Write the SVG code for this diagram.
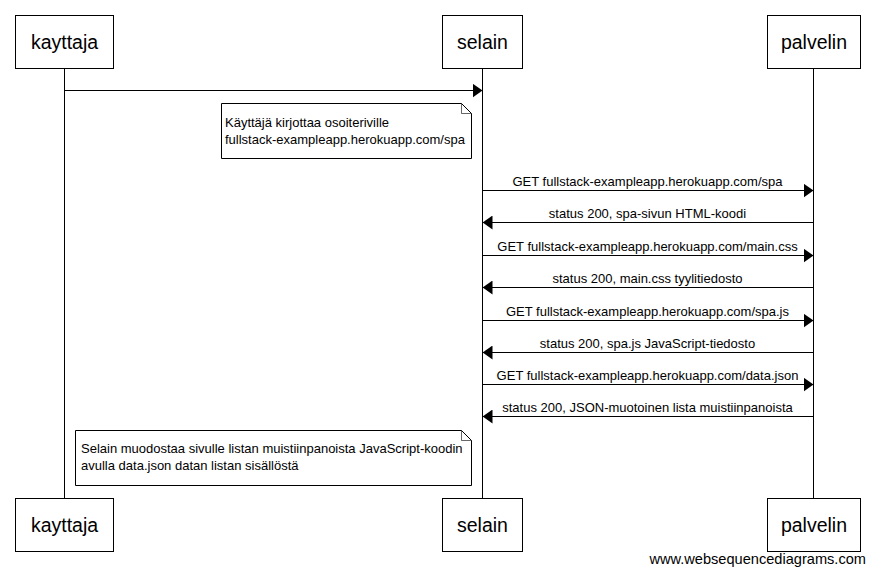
<svg xmlns="http://www.w3.org/2000/svg" width="874" height="575" viewBox="0 0 874 575">
  <style>
    .actor rect { fill: #fff; stroke: #000; stroke-width: 1; }
    .actor text { font-family: "Liberation Sans", Arial, sans-serif; font-size: 19.5px; text-anchor: middle; fill: #000; }
    .life { stroke: #000; stroke-width: 1; }
    .msg line { stroke: #000; stroke-width: 1; }
    .msg text { font-family: "Liberation Sans", Arial, sans-serif; font-size: 13px; text-anchor: middle; fill: #000; }
    .note path.body { fill: #fff; stroke: #000; stroke-width: 1; }
    .note path.fold { fill: none; stroke: #000; stroke-width: 0.6; }
    .note text { font-family: "Liberation Sans", Arial, sans-serif; font-size: 13px; fill: #000; }
    .credit { font-family: "Liberation Sans", Arial, sans-serif; font-size: 14.6px; text-anchor: end; fill: #000; }
  </style>
  <defs>
    <marker id="head" markerUnits="userSpaceOnUse" markerWidth="10" markerHeight="14" refX="10" refY="7" orient="auto">
      <path d="M0,0 L10,7 L0,14 Z" fill="#000"/>
    </marker>
  </defs>
  <rect width="874" height="575" fill="#fff"/>

  <!-- lifelines -->
  <g id="lifelines">
    <line class="life" x1="64.5" y1="68" x2="64.5" y2="498"/>
    <line class="life" x1="482.5" y1="68" x2="482.5" y2="498"/>
    <line class="life" x1="813.5" y1="68" x2="813.5" y2="498"/>
  </g>

  <!-- participants (top) -->
  <g id="kayttaja-top" class="actor">
    <rect x="15.5" y="15.5" width="98" height="53"/>
    <text x="64.5" y="49">kayttaja</text>
  </g>
  <g id="selain-top" class="actor">
    <rect x="442.5" y="15.5" width="80" height="53"/>
    <text x="482.5" y="49">selain</text>
  </g>
  <g id="palvelin-top" class="actor">
    <rect x="767.5" y="15.5" width="93" height="53"/>
    <text x="814" y="49">palvelin</text>
  </g>

  <!-- participants (bottom) -->
  <g id="kayttaja-bottom" class="actor">
    <rect x="15.5" y="498.5" width="98" height="53"/>
    <text x="64.5" y="532">kayttaja</text>
  </g>
  <g id="selain-bottom" class="actor">
    <rect x="442.5" y="498.5" width="80" height="53"/>
    <text x="482.5" y="532">selain</text>
  </g>
  <g id="palvelin-bottom" class="actor">
    <rect x="767.5" y="498.5" width="93" height="53"/>
    <text x="814" y="532">palvelin</text>
  </g>

  <!-- notes -->
  <g id="note-osoiterivi" class="note">
    <path class="body" d="M221.5,103.5 H461.5 L471.5,113.5 V158.5 H221.5 Z"/>
    <path class="fold" d="M461.5,103.5 V113.5 H471.5"/>
    <text x="225" y="127">Käyttäjä kirjottaa osoiteriville</text>
    <text x="225" y="144">fullstack-exampleapp.herokuapp.com/spa</text>
  </g>
  <g id="note-muodostaa" class="note">
    <path class="body" d="M75.5,430.5 H461.5 L471.5,440.5 V485.5 H75.5 Z"/>
    <path class="fold" d="M461.5,430.5 V440.5 H471.5"/>
    <text x="81" y="453">Selain muodostaa sivulle listan muistiinpanoista JavaScript-koodin</text>
    <text x="81" y="470">avulla data.json datan listan sisällöstä</text>
  </g>

  <!-- messages -->
  <g id="connectors" class="msg">
    <line x1="64.5" y1="90.5" x2="482.5" y2="90.5" marker-end="url(#head)"/>

    <line x1="482.5" y1="190.5" x2="813.5" y2="190.5" marker-end="url(#head)"/>
    <text x="647.5" y="186">GET fullstack-exampleapp.herokuapp.com/spa</text>

    <line x1="813.5" y1="222.5" x2="482.5" y2="222.5" marker-end="url(#head)"/>
    <text x="647.5" y="218">status 200, spa-sivun HTML-koodi</text>

    <line x1="482.5" y1="255.5" x2="813.5" y2="255.5" marker-end="url(#head)"/>
    <text x="647.5" y="251">GET fullstack-exampleapp.herokuapp.com/main.css</text>

    <line x1="813.5" y1="287.5" x2="482.5" y2="287.5" marker-end="url(#head)"/>
    <text x="647.5" y="283">status 200, main.css tyylitiedosto</text>

    <line x1="482.5" y1="320.5" x2="813.5" y2="320.5" marker-end="url(#head)"/>
    <text x="647.5" y="316">GET fullstack-exampleapp.herokuapp.com/spa.js</text>

    <line x1="813.5" y1="352.5" x2="482.5" y2="352.5" marker-end="url(#head)"/>
    <text x="647.5" y="348">status 200, spa.js JavaScript-tiedosto</text>

    <line x1="482.5" y1="384.5" x2="813.5" y2="384.5" marker-end="url(#head)"/>
    <text x="647.5" y="380">GET fullstack-exampleapp.herokuapp.com/data.json</text>

    <line x1="813.5" y1="416.5" x2="482.5" y2="416.5" marker-end="url(#head)"/>
    <text x="647.5" y="412">status 200, JSON-muotoinen lista muistiinpanoista</text>
  </g>

  <text class="credit" x="866" y="564">www.websequencediagrams.com</text>
</svg>
